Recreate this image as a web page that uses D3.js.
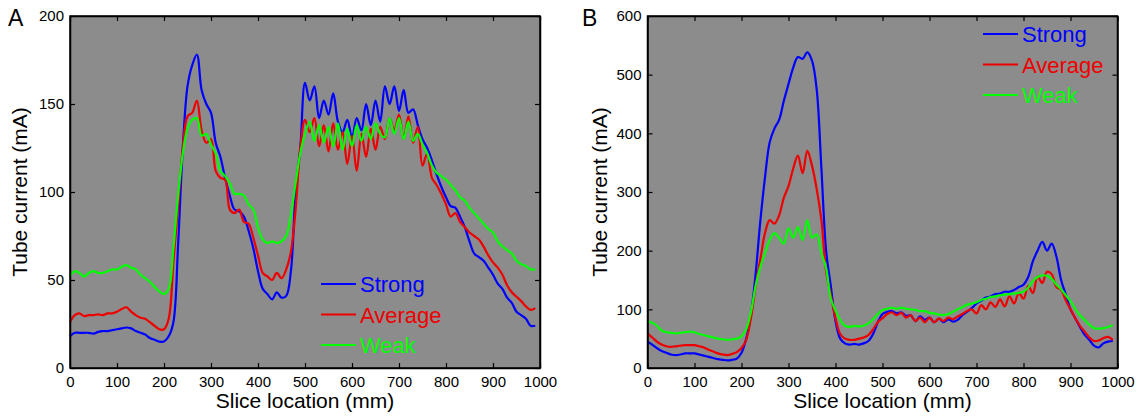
<!DOCTYPE html>
<html>
<head>
<meta charset="utf-8">
<script src="https://cdn.jsdelivr.net/npm/d3@7"></script>
<style>
  body { margin: 0; background: #fff; }
  svg text { font-family: "Liberation Sans", Arial, sans-serif; }
</style>
</head>
<body>
<div id="chart"></div>
<script>
// Slice positions (mm), sampled every 10 mm
const sliceMm = d3.range(0, 1000, 10);

const seriesNames = ["Strong", "Average", "Weak"];
const seriesColors = ["#0000ff", "#ee0000", "#00ff00"];

const xTicks = [0, 100, 200, 300, 400, 500, 600, 700, 800, 900, 1000];
const yTicksA = [0, 50, 100, 150, 200];
const yTicksB = [0, 100, 200, 300, 400, 500, 600];

// Panel A: tube current (mA)
const strongA = [18, 20, 20, 20, 20, 19.5, 20.5, 21, 21, 21.5,
  22, 22.5, 23, 22.5, 21, 20, 19, 17, 16, 15,
  15, 18, 26, 70, 125, 160, 172, 178, 158, 150,
  145, 128, 120, 108, 98, 90, 89, 86, 78, 68,
  55, 45, 42, 39, 43, 40, 41, 55, 100, 125,
  162, 152, 160, 142, 152, 144, 156, 140, 134, 141,
  131, 142, 135, 150, 138, 152, 140, 160, 150, 160,
  146, 158, 145, 147, 138, 130, 125, 118, 110, 103,
  97, 92, 91, 86, 80, 72, 65, 63, 61, 57,
  53, 48, 45, 40, 37, 32, 30, 28, 24, 24];
const averageA = [26, 30, 31, 29.5, 30, 30, 30.5, 30, 31, 31,
  32, 33.5, 34.5, 32, 30, 28.5, 28, 26, 24, 22,
  22, 28, 60, 92, 125, 143, 145, 152, 135, 128,
  130, 112, 108, 107, 90, 88, 90, 83, 82, 74,
  64, 54, 52, 50, 54, 51, 56, 66, 90, 125,
  141, 134, 142, 126, 138, 123, 139, 124, 134, 116,
  132, 112, 133, 120, 136, 124, 137, 130, 142, 135,
  144, 130, 143, 128, 137, 115, 122, 108, 104, 99,
  93, 86, 88, 83, 80, 77, 75, 73, 69, 64,
  60, 57, 53, 47, 43, 40.5, 38, 35, 33, 34];
const weakA = [52, 55, 54, 52, 54, 55, 54, 54, 55, 56,
  56, 57.5, 58.5, 57, 56, 53, 51, 49, 46, 43.5,
  42, 45, 68, 98, 122, 136, 141, 142, 132, 133,
  127, 122, 112, 109, 105, 99, 99, 98, 93, 90,
  80, 73, 71, 72, 71, 72, 75, 87, 105, 122,
  133, 140, 129, 138, 128, 137, 126, 139, 124, 136,
  126, 138, 129, 137, 130, 139, 133, 131, 142, 133,
  142, 130, 140, 129, 133, 127, 122, 115, 111, 109,
  107, 104, 101, 97, 95, 91, 88, 85, 82, 79,
  77, 72, 69, 67, 65, 61, 59, 58, 56, 56];

// Panel B: tube current (mA)
const strongB = [45, 40, 34, 29, 26, 23, 22, 23, 25, 25,
  25, 23, 21, 19, 17, 15, 14, 13, 14, 16,
  26, 50, 90, 160, 250, 325, 385, 408, 423, 455,
  484, 512, 530, 527, 538, 524, 475, 340, 200, 140,
  80, 50, 42, 40, 41, 40, 42, 46, 58, 78,
  92, 96, 97, 93, 95, 89, 90, 80, 88, 82,
  86, 78, 84, 78, 83, 79, 82, 90, 96, 102,
  110, 115, 120, 122, 126, 127, 130, 130, 133, 138,
  142, 155, 182, 200, 215, 200, 212, 190, 150, 125,
  100, 85, 70, 57, 48, 38, 35, 42, 45, 46];
const averageB = [59, 52, 45, 40, 37, 36, 37, 38, 39, 39,
  39, 37, 35, 31, 28, 25, 23, 22, 24, 27,
  34, 48, 85, 140, 185, 230, 252, 246, 260, 290,
  310, 340, 362, 332, 370, 345, 305, 252, 165, 125,
  85, 58, 50, 48, 48, 50, 52, 56, 66, 78,
  85, 92, 95, 90, 94, 86, 90, 80, 86, 78,
  86, 78, 84, 80, 86, 83, 88, 92, 97, 100,
  93, 107, 100, 112, 104, 117, 105, 122, 110, 128,
  118, 140, 128, 156, 145, 164, 160, 138, 133, 115,
  100, 85, 72, 62, 52, 46, 47, 51, 53, 48];
const weakB = [80, 77, 72, 64, 61, 60, 59, 60, 61, 62,
  61, 58, 56, 54, 52, 50, 49, 48, 49, 50,
  54, 66, 95, 140, 172, 196, 218, 230, 222, 212,
  238, 222, 240, 218, 252, 222, 228, 196, 170, 118,
  98, 82, 72, 70, 72, 71, 72, 76, 83, 92,
  99, 101, 103, 101, 103, 101, 100, 99, 97, 97,
  94, 93, 91, 90, 92, 96, 100, 104, 108, 110,
  112, 116, 118, 121, 122, 124, 125, 126, 127, 128,
  130, 137, 148, 155, 158, 157, 152, 142, 134, 124,
  114, 101, 90, 82, 74, 68, 67, 68, 70, 73];

const width = 1141, height = 416;
const svg = d3.select("#chart")
  .append("svg")
  .attr("width", width)
  .attr("height", height);

function drawPanel(opts) {
  const xScale = d3.scaleLinear().domain([0, 1000]).range([opts.left, opts.right]);
  const yScale = d3.scaleLinear().domain([0, opts.yMax]).range([opts.bottom, opts.top]);
  const g = svg.append("g");

  // grey plot area
  g.append("rect")
    .attr("x", opts.left).attr("y", opts.top)
    .attr("width", opts.right - opts.left)
    .attr("height", opts.bottom - opts.top)
    .attr("fill", "#8c8c8c");

  // lines
  const line = d3.line()
    .x((d, i) => xScale(sliceMm[i]))
    .y(d => yScale(d))
    .curve(d3.curveCatmullRom.alpha(0.5));
  opts.series.forEach((s, i) => {
    g.append("path")
      .datum(s)
      .attr("fill", "none")
      .attr("stroke", seriesColors[i])
      .attr("stroke-width", 2.2)
      .attr("stroke-linejoin", "round")
      .attr("d", line);
  });

  // axes with inward ticks
  const tick = 5;
  const fmt = d3.format("d");
  g.append("g")
    .attr("transform", `translate(0,${opts.bottom})`)
    .call(d3.axisBottom(xScale).tickValues(xTicks).tickFormat(fmt).tickSizeInner(-tick).tickSizeOuter(0).tickPadding(8))
    .call(ax => ax.selectAll("text").style("font-size", "15px").attr("fill", "#000"));
  g.append("g")
    .attr("transform", `translate(0,${opts.top})`)
    .call(d3.axisTop(xScale).tickValues(xTicks).tickSizeInner(-tick).tickSizeOuter(0).tickFormat(""));
  g.append("g")
    .attr("transform", `translate(${opts.left},0)`)
    .call(d3.axisLeft(yScale).tickValues(opts.yTicks).tickFormat(fmt).tickSizeInner(-tick).tickSizeOuter(0).tickPadding(6))
    .call(ax => ax.selectAll("text").style("font-size", "15px").attr("fill", "#000"));
  g.append("g")
    .attr("transform", `translate(${opts.right},0)`)
    .call(d3.axisRight(yScale).tickValues(opts.yTicks).tickSizeInner(-tick).tickSizeOuter(0).tickFormat(""));

  g.selectAll(".domain").attr("stroke", "#000").attr("stroke-width", 1.5);
  g.selectAll(".tick line").attr("stroke", "#000").attr("stroke-width", 1.2);

  // frame
  g.append("rect")
    .attr("x", opts.left).attr("y", opts.top)
    .attr("width", opts.right - opts.left)
    .attr("height", opts.bottom - opts.top)
    .attr("fill", "none")
    .attr("stroke", "#000")
    .attr("stroke-width", 1.5);

  // axis titles
  g.append("text")
    .attr("x", (opts.left + opts.right) / 2)
    .attr("y", 408)
    .attr("text-anchor", "middle")
    .style("font-size", "21px")
    .text("Slice location (mm)");
  g.append("text")
    .attr("transform", `translate(${opts.yLabelX},${(opts.top + opts.bottom) / 2}) rotate(-90)`)
    .attr("text-anchor", "middle")
    .style("font-size", "21px")
    .text("Tube current (mA)");

  // panel letter
  g.append("text")
    .attr("x", opts.letterX)
    .attr("y", 26)
    .style("font-size", "23px")
    .text(opts.letter);

  // legend
  const leg = g.append("g").attr("transform", `translate(${opts.legX},${opts.legY})`);
  seriesNames.forEach((name, i) => {
    const y = i * 30.5;
    leg.append("line")
      .attr("x1", 0).attr("x2", 35)
      .attr("y1", y).attr("y2", y)
      .attr("stroke", seriesColors[i])
      .attr("stroke-width", 2);
    leg.append("text")
      .attr("x", 39)
      .attr("y", y + 8)
      .attr("fill", seriesColors[i])
      .style("font-size", "22px")
      .text(name);
  });
}

drawPanel({
  left: 70, right: 540, top: 16, bottom: 368,
  yMax: 200, yTicks: yTicksA,
  series: [strongA, averageA, weakA],
  yLabelX: 27, letter: "A", letterX: 8,
  legX: 321, legY: 284
});

drawPanel({
  left: 647.5, right: 1117.5, top: 16, bottom: 368,
  yMax: 600, yTicks: yTicksB,
  series: [strongB, averageB, weakB],
  yLabelX: 607, letter: "B", letterX: 582,
  legX: 983, legY: 34
});
</script>
</body>
</html>
